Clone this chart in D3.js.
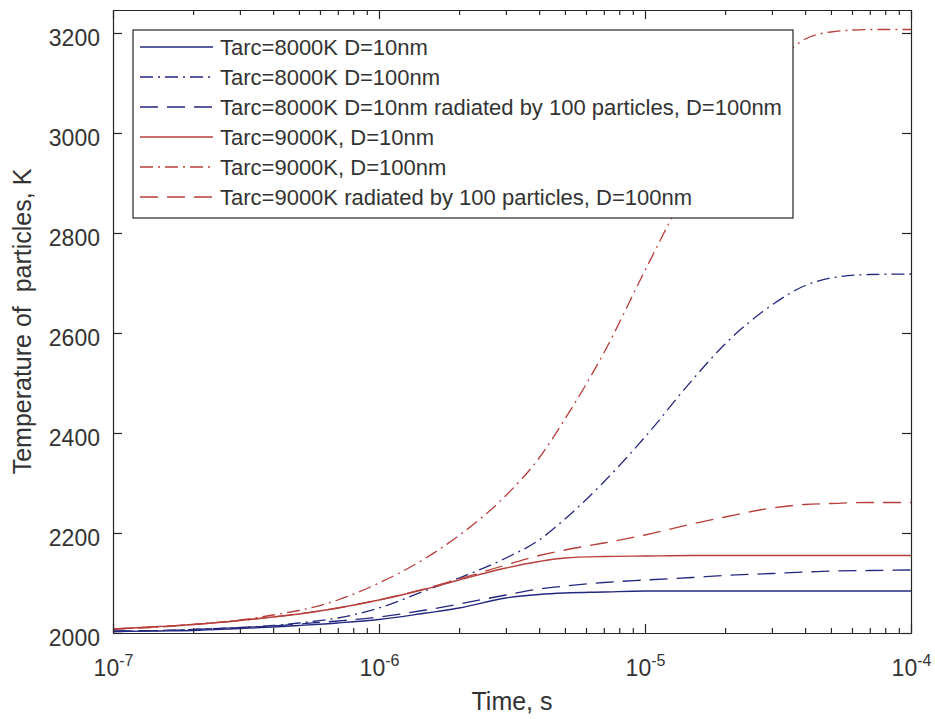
<!DOCTYPE html>
<html>
<head>
<meta charset="utf-8">
<script src="https://cdn.jsdelivr.net/npm/d3@7"></script>
<style>
  body { margin: 0; background: #fff; overflow: hidden; }
  svg { display: block; }
  text { font-family: "Liberation Sans", Arial, sans-serif; fill: #333; }
  .axis text { font-size: 23px; }
  .axis path, .axis line { stroke: #262626; stroke-width: 1.2; }
  .legend text { font-size: 22px; }
</style>
<script>
// time grid (s)
var timeS = [1e-7, 1.5e-7, 2e-7, 3e-7, 4e-7, 5e-7, 7e-7, 1e-6, 1.5e-6, 2e-6, 3e-6, 4e-6,
             5e-6, 7e-6, 1e-5, 1.5e-5, 2e-5, 3e-5, 4e-5, 5e-5, 7e-5, 1e-4];

// temperatures (K)
var t8000d10    = [2003, 2004, 2005, 2009, 2012, 2015, 2020, 2027, 2040, 2050, 2070, 2077,
                   2080, 2082, 2084, 2084, 2084, 2084, 2084, 2084, 2084, 2084];
var t8000d100   = [2003, 2005, 2007, 2011, 2015, 2020, 2030, 2050, 2085, 2110, 2150, 2186,
                   2228, 2302, 2392, 2505, 2578, 2656, 2695, 2710, 2717, 2718];
var t8000d10rad = [2004, 2005, 2007, 2011, 2014, 2018, 2024, 2032, 2046, 2058, 2076, 2088,
                   2094, 2101, 2106, 2111, 2115, 2119, 2122, 2124, 2125, 2126];
var t9000d10    = [2008, 2013, 2017, 2025, 2032, 2038, 2050, 2066, 2088, 2106, 2130, 2143,
                   2150, 2153, 2154, 2155, 2155, 2155, 2155, 2155, 2155, 2155];
var t9000d100   = [2008, 2012, 2017, 2026, 2036, 2045, 2066, 2100, 2150, 2195, 2275, 2350,
                   2428, 2560, 2725, 2905, 3010, 3130, 3188, 3202, 3207, 3207];
var t9000d10rad = [2008, 2013, 2017, 2025, 2032, 2038, 2050, 2066, 2089, 2108, 2136, 2155,
                   2166, 2180, 2196, 2218, 2232, 2250, 2257, 2259, 2261, 2261];

var seriesNames = [
  "Tarc=8000K D=10nm",
  "Tarc=8000K D=100nm",
  "Tarc=8000K D=10nm radiated by 100 particles, D=100nm",
  "Tarc=9000K, D=10nm",
  "Tarc=9000K, D=100nm",
  "Tarc=9000K radiated by 100 particles, D=100nm"
];
var seriesValues = [t8000d10, t8000d100, t8000d10rad, t9000d10, t9000d100, t9000d10rad];

var xTicks = [1e-7, 1e-6, 1e-5, 1e-4];
var xTickExp = ["-7", "-6", "-5", "-4"];
var yTicks = [2000, 2200, 2400, 2600, 2800, 3000, 3200];

var blue = "#23287f", red = "#b83e3a";
var colors = [blue, blue, blue, red, red, red];
var dashes = [null, "13,5,2,5", "18,9", null, "13,5,2,5", "18,9"];

function drawChart() {
  var width = 935, height = 719;
  var margin = {top: 10, left: 113, right: 24, bottom: 86};
  var innerWidth = width - margin.left - margin.right;
  var innerHeight = height - margin.top - margin.bottom;

  var xScale = d3.scaleLog().domain([1e-7, 1e-4]).range([0, innerWidth]);
  var yScale = d3.scaleLinear().domain([2000, 3246]).range([innerHeight, 0]);

  var svg = d3.select("#chart").append("svg")
    .attr("width", width)
    .attr("height", height);

  svg.append("rect").attr("width", width).attr("height", height).attr("fill", "#fff");

  var g = svg.append("g")
    .attr("transform", "translate(" + margin.left + "," + margin.top + ")");

  var minorTicks = xScale.ticks().filter(function(d) {
    return Math.abs(Math.log10(d) - Math.round(Math.log10(d))) > 1e-6;
  });

  // lines
  var line = d3.line()
    .x(function(d) { return xScale(d[0]); })
    .y(function(d) { return yScale(d[1]); })
    .curve(d3.curveMonotoneX);

  seriesValues.forEach(function(vals, i) {
    g.append("path")
      .datum(timeS.map(function(t, j) { return [t, vals[j]]; }))
      .attr("fill", "none")
      .attr("stroke", colors[i])
      .attr("stroke-width", 1.3)
      .attr("stroke-dasharray", dashes[i])
      .attr("d", line);
  });

  // tick-only axes (no labels)
  function bare(axis, tx, ty) {
    var a = g.append("g").attr("class", "axis")
      .attr("transform", "translate(" + tx + "," + ty + ")")
      .call(axis.tickSizeOuter(0).tickFormat(""));
    a.selectAll("text").remove();
    return a;
  }

  bare(d3.axisBottom(xScale).tickValues(minorTicks).tickSizeInner(-5), 0, innerHeight);
  bare(d3.axisTop(xScale).tickValues(xTicks).tickSizeInner(-9), 0, 0);
  bare(d3.axisTop(xScale).tickValues(minorTicks).tickSizeInner(-5), 0, 0);
  bare(d3.axisRight(yScale).tickValues(yTicks).tickSizeInner(-9), innerWidth, 0);

  // labelled axes
  var xAxis = g.append("g").attr("class", "x axis")
    .attr("transform", "translate(0," + innerHeight + ")")
    .call(d3.axisBottom(xScale).tickValues(xTicks).tickSizeInner(-9).tickSizeOuter(0)
      .tickPadding(27).tickFormat(function() { return "10"; }));

  xAxis.selectAll(".tick text").each(function(d, i) {
    d3.select(this).append("tspan")
      .attr("dy", -10)
      .style("font-size", "16px")
      .text(xTickExp[i]);
  });

  g.append("g").attr("class", "y axis")
    .call(d3.axisLeft(yScale).tickValues(yTicks).tickSizeInner(-9).tickSizeOuter(0)
      .tickPadding(13).tickFormat(d3.format("d")))
    .selectAll(".tick text").attr("dy", "0.56em");

  // axis labels
  svg.append("text")
    .attr("x", margin.left + innerWidth / 2)
    .attr("y", 710)
    .attr("text-anchor", "middle")
    .style("font-size", "25px")
    .text("Time, s");

  svg.append("text")
    .attr("transform", "translate(31," + (margin.top + innerHeight / 2) + ") rotate(-90)")
    .attr("text-anchor", "middle")
    .style("font-size", "25px")
    .style("white-space", "pre")
    .attr("xml:space", "preserve")
    .text("Temperature of  particles, K");

  // legend
  var legend = svg.append("g").attr("class", "legend")
    .attr("transform", "translate(133,30)");

  legend.append("rect")
    .attr("width", 660).attr("height", 188)
    .attr("fill", "#fff").attr("stroke", "#262626").attr("stroke-width", 1.2);

  var rows = legend.selectAll(".row").data(seriesNames).enter().append("g")
    .attr("class", "row")
    .attr("transform", function(d, i) { return "translate(0," + (17 + 30 * i) + ")"; });

  rows.append("line")
    .attr("x1", 7).attr("x2", 80)
    .attr("stroke", function(d, i) { return colors[i]; })
    .attr("stroke-width", 1.3)
    .attr("stroke-dasharray", function(d, i) { return dashes[i]; });

  rows.append("text")
    .attr("x", 87)
    .attr("dy", "0.35em")
    .text(function(d) { return d; });
}

document.addEventListener("DOMContentLoaded", drawChart);
</script>
</head>
<body>
<div id="chart"></div>
</body>
</html>
